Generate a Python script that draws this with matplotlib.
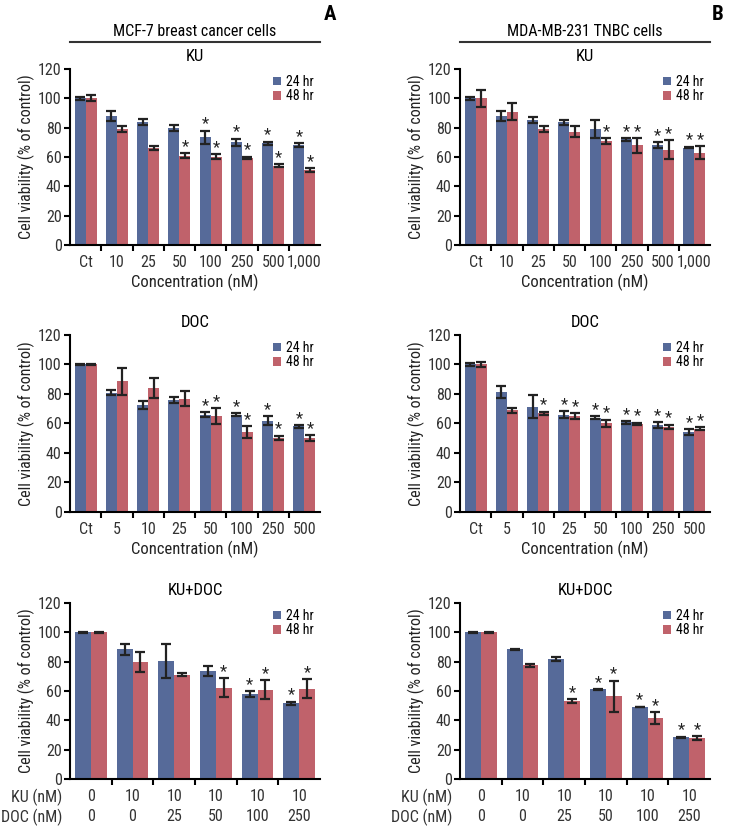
import numpy as np
import matplotlib
matplotlib.use("Agg")
import matplotlib.pyplot as plt
from matplotlib.lines import Line2D

plt.rcParams["font.family"] = ["Roboto Condensed", "DejaVu Sans"]

BLUE = "#566a99"
RED = "#c0626b"

# ---- data ----
ku_labels = ["Ct", "10", "25", "50", "100", "250", "500", "1,000"]
doc_labels = ["Ct", "5", "10", "25", "50", "100", "250", "500"]
combo_ku = ["0", "10", "10", "10", "10", "10"]
combo_doc = ["0", "0", "25", "50", "100", "250"]

# MCF-7, KU
a_ku_24 = [100, 88, 84, 80, 73.4, 70, 69.5, 68]
a_ku_24_err = [1, 3.5, 2, 2, 4.5, 2.5, 1, 1.5]
a_ku_48 = [100, 79, 66, 61, 60.2, 59.3, 54, 51]
a_ku_48_err = [2, 2, 1.5, 1.5, 1.5, 1, 1, 1.5]
a_ku_sig24 = [0, 0, 0, 0, 1, 1, 1, 1]
a_ku_sig48 = [0, 0, 0, 1, 1, 1, 1, 1]

# MDA-MB-231, KU
b_ku_24 = [100, 88, 85, 83.6, 79, 72, 68, 66.4]
b_ku_24_err = [1, 3.5, 2, 1.5, 6, 1, 2, 0.6]
b_ku_48 = [100, 91, 79, 77.3, 71, 68, 65, 63]
b_ku_48_err = [6, 5.5, 2, 4, 2, 5, 6.5, 4.5]
b_ku_sig24 = [0, 0, 0, 0, 0, 1, 1, 1]
b_ku_sig48 = [0, 0, 0, 0, 1, 1, 1, 1]

# MCF-7, DOC
a_doc_24 = [100, 81, 72.5, 76, 66, 65.8, 61.8, 58]
a_doc_24_err = [0.3, 1.5, 3, 2, 1.5, 1, 3, 1]
a_doc_48 = [100, 88.5, 84, 76.8, 65, 54, 50.3, 50]
a_doc_48_err = [0.3, 9, 7, 5, 5.5, 4, 1.5, 2]
a_doc_sig24 = [0, 0, 0, 0, 1, 1, 1, 1]
a_doc_sig48 = [0, 0, 0, 0, 1, 1, 1, 1]

# MDA-MB-231, DOC
b_doc_24 = [100, 81.5, 71.5, 66, 64, 60.7, 59, 54.3]
b_doc_24_err = [1, 4, 7.5, 2.5, 1, 1, 2, 2]
b_doc_48 = [100, 68.8, 67, 65, 60, 59.8, 57.7, 56.4]
b_doc_48_err = [2, 1.5, 1, 2, 2.5, 0.8, 1.5, 1]
b_doc_sig24 = [0, 0, 0, 1, 1, 1, 1, 1]
b_doc_sig48 = [0, 0, 1, 1, 1, 1, 1, 1]

# MCF-7, KU+DOC
a_mix_24 = [100, 88.3, 80.6, 73.4, 58, 51.6]
a_mix_24_err = [0.2, 4, 11.7, 3.5, 2, 1]
a_mix_48 = [100, 79.7, 71.1, 62.3, 60.7, 61.6]
a_mix_48_err = [0.2, 7, 1, 6.5, 6.5, 6.5]
a_mix_sig24 = [0, 0, 0, 0, 1, 1]
a_mix_sig48 = [0, 0, 0, 1, 1, 1]

# MDA-MB-231, KU+DOC
b_mix_24 = [100, 88.3, 81.7, 61.1, 49.1, 28.5]
b_mix_24_err = [0.2, 0.3, 1.3, 0.3, 0.3, 0.3]
b_mix_48 = [100, 77.4, 53.2, 56.5, 41.7, 27.8]
b_mix_48_err = [0.2, 0.8, 1.2, 10.5, 4, 1.5]
b_mix_sig24 = [0, 0, 0, 1, 1, 1]
b_mix_sig48 = [0, 0, 1, 1, 1, 1]


def panel(ax, title, v24, e24, v48, e48, s24, s48, labels=None, combo=None):
    n = len(v24)
    x = np.arange(n)
    w = 0.35 if combo is None else 0.38
    ax.bar(x - w / 2, v24, w, color=BLUE, label="24 hr")
    ax.bar(x + w / 2, v48, w, color=RED, label="48 hr")
    ek = dict(ecolor="#222222", elinewidth=1.6, capsize=3.5, capthick=1.6, fmt="none")
    ax.errorbar(x - w / 2, v24, yerr=e24, **ek)
    ax.errorbar(x + w / 2, v48, yerr=e48, **ek)
    for i in range(n):
        if s24[i]:
            ax.text(x[i] - w / 2, v24[i] + e24[i] - 0.5, "*", ha="center", va="bottom",
                    fontsize=12, color="#222222")
        if s48[i]:
            ax.text(x[i] + w / 2, v48[i] + e48[i] - 0.5, "*", ha="center", va="bottom",
                    fontsize=12, color="#222222")

    ax.set_xlim(-0.5, n - 0.5)
    ax.set_ylim(0, 120)
    ax.set_yticks(range(0, 121, 20))
    ax.spines["top"].set_visible(False)
    ax.spines["right"].set_visible(False)
    ax.spines["left"].set_linewidth(1.5)
    ax.spines["bottom"].set_linewidth(1.5)
    ax.tick_params(axis="y", direction="out", length=4, width=1.5, labelsize=11.5, pad=2,
                   labelcolor="#333333")
    ax.set_xticks(x)
    ax.tick_params(axis="x", which="major", length=0, labelsize=11.5, pad=7,
                   labelcolor="#333333")
    ax.set_xticks(np.arange(n - 1) + 0.5, minor=True)
    ax.tick_params(axis="x", which="minor", direction="out", length=4, width=1.5)
    ax.set_ylabel("Cell viability (% of control)", fontsize=11.5, labelpad=2, color="#222222")
    ax.set_title(title, fontsize=12, pad=6)

    if combo is None:
        ax.set_xticklabels(labels)
        ax.set_xlabel("Concentration (nM)", fontsize=12, labelpad=3, color="#222222")
    else:
        ax.set_xticklabels([f"{a}\n{b}" for a, b in zip(*combo)], linespacing=1.45)
        ax.text(-0.032, -0.102, "KU (nM)", transform=ax.transAxes, ha="right", va="center",
                fontsize=11.5, color="#333333")
        ax.text(-0.032, -0.216, "DOC (nM)", transform=ax.transAxes, ha="right", va="center",
                fontsize=11.5, color="#333333")

    ax.legend(loc="upper right", bbox_to_anchor=(1.02, 1.03), frameon=False, fontsize=10,
              handlelength=0.55, handleheight=0.55, handletextpad=0.4, labelspacing=0.05,
              borderpad=0.3)


fig = plt.figure(figsize=(7.31, 8.31), dpi=100)
w = 0.342
lefts = [0.0958, 0.6293]
rows = [(0.7052, 0.2118), (0.3839, 0.2130), (0.0626, 0.2118)]

ax = fig.add_axes([lefts[0], rows[0][0], w, rows[0][1]])
panel(ax, "KU", a_ku_24, a_ku_24_err, a_ku_48, a_ku_48_err, a_ku_sig24, a_ku_sig48, ku_labels)
ax = fig.add_axes([lefts[1], rows[0][0], w, rows[0][1]])
panel(ax, "KU", b_ku_24, b_ku_24_err, b_ku_48, b_ku_48_err, b_ku_sig24, b_ku_sig48, ku_labels)
ax = fig.add_axes([lefts[0], rows[1][0], w, rows[1][1]])
panel(ax, "DOC", a_doc_24, a_doc_24_err, a_doc_48, a_doc_48_err, a_doc_sig24, a_doc_sig48, doc_labels)
ax = fig.add_axes([lefts[1], rows[1][0], w, rows[1][1]])
panel(ax, "DOC", b_doc_24, b_doc_24_err, b_doc_48, b_doc_48_err, b_doc_sig24, b_doc_sig48, doc_labels)
ax = fig.add_axes([lefts[0], rows[2][0], w, rows[2][1]])
panel(ax, "KU+DOC", a_mix_24, a_mix_24_err, a_mix_48, a_mix_48_err, a_mix_sig24, a_mix_sig48,
      combo=(combo_ku, combo_doc))
ax = fig.add_axes([lefts[1], rows[2][0], w, rows[2][1]])
panel(ax, "KU+DOC", b_mix_24, b_mix_24_err, b_mix_48, b_mix_48_err, b_mix_sig24, b_mix_sig48,
      combo=(combo_ku, combo_doc))

# cell line headers
for left, name, letter, lx in [(lefts[0], "MCF-7 breast cancer cells", "A", 0.4514),
                               (lefts[1], "MDA-MB-231 TNBC cells", "B", 0.982)]:
    fig.add_artist(Line2D([left, left + w], [1 - 42 / 831] * 2, color="#333333", lw=1.5))
    fig.text(left + w / 2, 1 - 32 / 831, name, ha="center", va="center", fontsize=11.5)
    fig.text(lx, 1 - 15 / 831, letter, ha="center", va="center",
             fontsize=15, fontweight="bold")

fig.savefig("out.png", dpi=100)
